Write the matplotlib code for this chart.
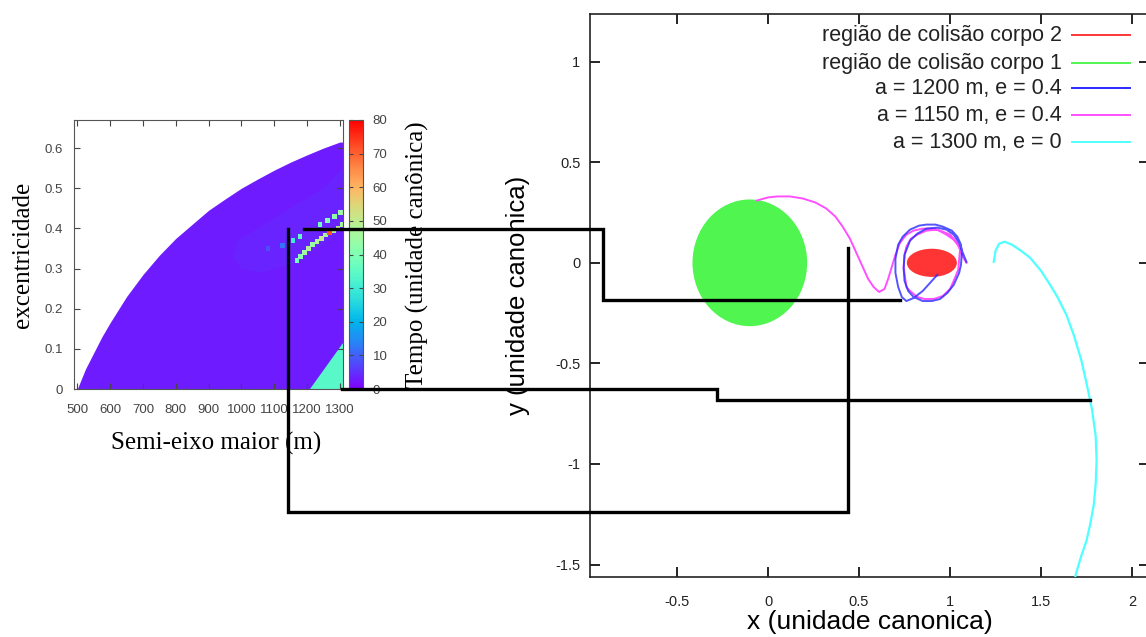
import numpy as np
import matplotlib
matplotlib.use("Agg")
from matplotlib import pyplot as plt
from matplotlib.patches import Ellipse, Polygon
from matplotlib.lines import Line2D
from matplotlib.colors import Normalize
from matplotlib.cm import ScalarMappable

# --- painel esquerdo: mapa (a, e) ---
borda_a = [500, 525, 550, 575, 600, 650, 700, 750, 800, 850, 900, 950, 1000,
           1050, 1100, 1150, 1200, 1250, 1300, 1310]
borda_e = [0.0, 0.05, 0.09, 0.13, 0.165, 0.23, 0.285, 0.333, 0.375, 0.41, 0.445, 0.473, 0.50,
           0.523, 0.545, 0.565, 0.583, 0.60, 0.615, 0.615]
tempo_base = 3

mancha_a = [975, 1000, 1060, 1150, 1250, 1310, 1310, 1250, 1150, 1050, 990]
mancha_e = [0.33, 0.30, 0.29, 0.31, 0.36, 0.40, 0.55, 0.50, 0.45, 0.40, 0.37]
tempo_mancha = 6

banda_a = [1081, 1126, 1157, 1178, 1205, 1239, 1263, 1284, 1302,
           1169, 1181, 1193, 1205, 1217, 1231, 1245, 1257, 1269, 1282, 1294, 1309]
banda_e = [0.35, 0.357, 0.37, 0.38, 0.35, 0.41, 0.42, 0.43, 0.44,
           0.32, 0.33, 0.34, 0.35, 0.36, 0.367, 0.375, 0.383, 0.39, 0.395, 0.40, 0.41]
banda_t = [8, 12, 30, 35, 65, 38, 40, 42, 45,
           38, 42, 45, 48, 44, 47, 50, 46, 72, 48, 50, 45]

tri_a = [1208, 1310, 1310]
tri_e = [0.0, 0.0, 0.115]
tempo_tri = 34

# --- painel direito: trajetorias ---
corpo1 = (-0.1, 0.0, 0.63, 0.63)   # centro x, centro y, largura, altura
corpo2 = (0.9, 0.0, 0.275, 0.14)

rosa_x = [-0.06, 0.0, 0.05, 0.12, 0.19, 0.26, 0.32, 0.37, 0.41, 0.45, 0.49, 0.52, 0.55, 0.58,
          0.61, 0.64, 0.66, 0.68, 0.70, 0.725, 0.76, 0.80, 0.85, 0.91, 0.96, 1.0, 1.04, 1.055,
          1.045, 1.02, 1.0, 0.96, 0.91, 0.86, 0.82, 0.78, 0.76, 0.745, 0.75, 0.76, 0.785, 0.82,
          0.87, 0.93, 0.98, 1.02, 1.05, 1.07, 1.09]
rosa_y = [0.31, 0.325, 0.33, 0.33, 0.32, 0.30, 0.27, 0.23, 0.18, 0.12, 0.04, -0.02, -0.08, -0.12,
          -0.145, -0.13, -0.08, -0.02, 0.04, 0.10, 0.14, 0.16, 0.17, 0.17, 0.155, 0.14, 0.10, 0.065,
          -0.035, -0.09, -0.13, -0.165, -0.18, -0.18, -0.17, -0.14, -0.12, -0.02, 0.04, 0.08, 0.12,
          0.14, 0.16, 0.165, 0.14, 0.115, 0.08, 0.03, 0.0]

azul_x = [0.93, 0.89, 0.85, 0.80, 0.76, 0.735, 0.715, 0.70, 0.70, 0.715, 0.74, 0.78, 0.83, 0.87,
          0.92, 0.96, 1.01, 1.04, 1.06, 1.065, 1.06, 1.05, 1.02, 0.985, 0.945, 0.90, 0.85, 0.80,
          0.77, 0.75, 0.745, 0.75, 0.78, 0.82, 0.87, 0.93, 0.98, 1.02, 1.05, 1.07, 1.09]
azul_y = [-0.06, -0.10, -0.14, -0.175, -0.19, -0.17, -0.12, -0.05, 0.02, 0.09, 0.13, 0.165, 0.185,
          0.19, 0.19, 0.18, 0.16, 0.13, 0.09, 0.05, -0.01, -0.05, -0.11, -0.15, -0.18, -0.19, -0.19,
          -0.17, -0.14, -0.09, -0.03, 0.04, 0.11, 0.145, 0.17, 0.175, 0.165, 0.14, 0.10, 0.05, 0.005]

ciano_x = [1.24, 1.25, 1.27, 1.30, 1.34, 1.39, 1.44, 1.50, 1.55, 1.59, 1.64, 1.68, 1.72, 1.75,
           1.78, 1.80, 1.805, 1.80, 1.79, 1.77, 1.75, 1.72, 1.70, 1.685]
ciano_y = [0.005, 0.06, 0.095, 0.105, 0.09, 0.06, 0.025, -0.04, -0.11, -0.17, -0.26, -0.36, -0.48,
           -0.60, -0.73, -0.86, -0.98, -1.10, -1.20, -1.30, -1.38, -1.46, -1.52, -1.57]

legenda = ["região de colisão corpo 2", "região de colisão corpo 1",
           "a = 1200 m, e = 0.4", "a = 1150 m, e = 0.4", "a = 1300 m, e = 0"]
cores = ["#ff3535", "#50f550", "#2a2aff", "#ff50ff", "#50ffff"]

W, H = 1146, 637
fig = plt.figure(figsize=(W / 100, H / 100), dpi=100)


def caixa(x0, x1, y0, y1):
    # pixels (topo-esquerda) -> fracao da figura
    return [x0 / W, 1 - y1 / H, (x1 - x0) / W, (y1 - y0) / H]


serif = "Liberation Serif"
sans = "Liberation Sans"

# ----- mapa -----
ax1 = fig.add_axes(caixa(74, 343, 120, 389))
cmap = plt.get_cmap("rainbow")
norm = Normalize(0, 80)

ax1.fill_between(borda_a, 0, borda_e, color=cmap(norm(tempo_base)), lw=0)
ax1.add_patch(Polygon(np.column_stack([mancha_a, mancha_e]), closed=True,
                      color=cmap(norm(tempo_mancha)), alpha=0.25, lw=0))
ax1.scatter(banda_a, banda_e, c=banda_t, cmap=cmap, norm=norm, marker="s", s=10, lw=0)
ax1.add_patch(Polygon(np.column_stack([tri_a, tri_e]), closed=True,
                      color=cmap(norm(tempo_tri)), lw=0))
ax1.set_xlim(490, 1310)
ax1.set_ylim(0, 0.67)
ax1.set_xticks(range(500, 1301, 100))
ax1.set_yticks([0, 0.1, 0.2, 0.3, 0.4, 0.5, 0.6])
ax1.set_yticklabels(["0", "0.1", "0.2", "0.3", "0.4", "0.5", "0.6"])
ax1.tick_params(direction="in", top=True, right=True, length=4, labelsize=9.5,
                labelcolor="#444444", colors="#444444")
ax1.tick_params(axis="x", pad=11)
ax1.tick_params(axis="y", pad=8)
for lab in ax1.get_xticklabels() + ax1.get_yticklabels():
    lab.set_family(sans)
for s in ax1.spines.values():
    s.set_color("#555555")
ax1.set_xlabel("Semi-eixo maior (m)", family=serif, fontsize=18)
ax1.xaxis.set_label_coords(0.53, -0.16)
ax1.set_ylabel("excentricidade", family=serif, fontsize=18)
ax1.yaxis.set_label_coords(-0.15, 0.5)

cax = fig.add_axes(caixa(349, 363, 120, 389))
cb = fig.colorbar(ScalarMappable(norm=norm, cmap=cmap), cax=cax)
cb.set_ticks(range(0, 81, 10))
cb.outline.set_edgecolor("#555555")
cax.tick_params(direction="in", left=True, right=True, length=3, labelsize=9.5,
                labelcolor="#444444", colors="#444444", pad=7)
for lab in cax.get_yticklabels():
    lab.set_family(sans)
cb.set_label("Tempo (unidade canônica)", family=serif, fontsize=18)
cax.yaxis.set_label_coords(4.05, 0.5)

# ----- trajetorias -----
ax2 = fig.add_axes(caixa(590, 1149, 14, 577))
ax2.add_patch(Ellipse(corpo1[:2], corpo1[2], corpo1[3], color=cores[1], lw=0, zorder=2))
ax2.add_patch(Ellipse(corpo2[:2], corpo2[2], corpo2[3], color=cores[0], lw=0, zorder=2))
ax2.plot(rosa_x, rosa_y, color=cores[3], lw=1.4, zorder=3)
ax2.plot(azul_x, azul_y, color=cores[2], lw=1.4, alpha=0.8, zorder=3)
ax2.plot(ciano_x, ciano_y, color=cores[4], lw=1.6, zorder=3)
ax2.set_xlim(-0.978, 2.093)
ax2.set_ylim(-1.562, 1.237)
ax2.set_xticks([-0.5, 0, 0.5, 1, 1.5, 2])
ax2.set_xticklabels(["-0.5", "0", "0.5", "1", "1.5", "2"])
ax2.set_yticks([-1.5, -1, -0.5, 0, 0.5, 1])
ax2.set_yticklabels(["-1.5", "-1", "-0.5", "0", "0.5", "1"])
ax2.tick_params(direction="in", top=True, right=True, length=7, width=1.2, labelsize=10.5,
                labelcolor="#222222")
ax2.tick_params(axis="x", pad=13)
ax2.tick_params(axis="y", pad=7)
for lab in ax2.get_xticklabels() + ax2.get_yticklabels():
    lab.set_family(sans)
for s in ax2.spines.values():
    s.set_linewidth(1.2)
    s.set_color("#222222")
ax2.set_xlabel("x (unidade canonica)", family=sans, fontsize=19)
ax2.xaxis.set_label_coords(0.5, -0.058)
ax2.set_ylabel("y (unidade canonica)", family=sans, fontsize=18.5)
ax2.yaxis.set_label_coords(-0.107, 0.5)

# legenda estilo gnuplot (texto a direita, amostra de linha a direita)
leg_y = [1.131, 0.992, 0.868, 0.734, 0.60]
for txt, cor, yy in zip(legenda, cores, leg_y):
    ax2.text(1.615, yy, txt, ha="right", va="center", family=sans, fontsize=15.5,
             color="#222222")
    ax2.plot([1.67, 1.99], [yy, yy], color=cor, lw=1.4)

# ----- linhas pretas sobrepostas -----
ligacoes = [
    [(304, 229), (603, 229), (603, 300), (900, 300)],
    [(288, 229), (288, 512), (848, 512), (848, 248)],
    [(342, 389), (717, 389), (717, 400), (1090, 400)],
]
for lig in ligacoes:
    xs = [p[0] / W for p in lig]
    ys = [1 - p[1] / H for p in lig]
    fig.add_artist(Line2D(xs, ys, color="black", lw=2.4, zorder=10,
                          solid_joinstyle="miter"))

plt.savefig("out.png", dpi=100)
plt.close()
